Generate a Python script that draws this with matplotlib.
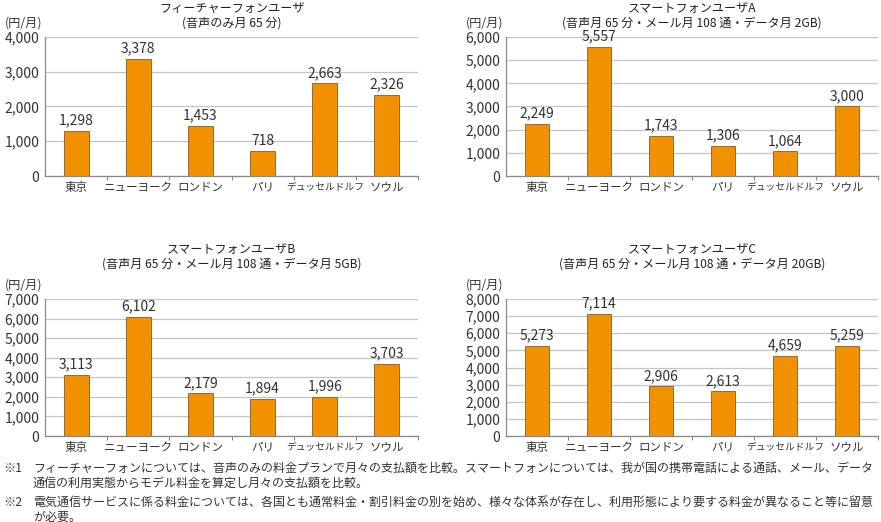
import numpy as np
import matplotlib
matplotlib.use("Agg")
import matplotlib.pyplot as plt

plt.rcParams['font.family'] = ['Noto Sans CJK JP', 'DejaVu Sans']

cities = ["東京", "ニューヨーク", "ロンドン", "パリ", "デュッセルドルフ", "ソウル"]

feature_phone = [1298, 3378, 1453, 718, 2663, 2326]
smart_a = [2249, 5557, 1743, 1306, 1064, 3000]
smart_b = [3113, 6102, 2179, 1894, 1996, 3703]
smart_c = [5273, 7114, 2906, 2613, 4659, 5259]

titles = [
    "フィーチャーフォンユーザ\n(音声のみ月 65 分)",
    "スマートフォンユーザA\n(音声月 65 分・メール月 108 通・データ月 2GB)",
    "スマートフォンユーザB\n(音声月 65 分・メール月 108 通・データ月 5GB)",
    "スマートフォンユーザC\n(音声月 65 分・メール月 108 通・データ月 20GB)",
]
ymax = [4000, 6000, 7000, 8000]
series = [feature_phone, smart_a, smart_b, smart_c]

notes = [
    ("※1", "フィーチャーフォンについては、音声のみの料金プランで月々の支払額を比較。スマートフォンについては、我が国の携帯電話による通話、メール、データ\n通信の利用実態からモデル料金を算定し月々の支払額を比較。"),
    ("※2", "電気通信サービスに係る料金については、各国とも通常料金・割引料金の別を始め、様々な体系が存在し、利用形態により要する料金が異なること等に留意\nが必要。"),
]

W, H = 881, 522
fig = plt.figure(figsize=(W / 100, H / 100), dpi=100)

# axes boxes in pixels: left, top, right, bottom
boxes = [(45, 37, 418, 176), (506, 37, 878, 176),
         (45, 299, 418, 436), (506, 299, 878, 436)]
title_pads = [7.5, 7.5, 23, 23]

orange = "#F29100"
grey_txt = "#333333"

for i, vals in enumerate(series):
    l, t, r, b = boxes[i]
    ax = fig.add_axes([l / W, 1 - b / H, (r - l) / W, (b - t) / H])
    x = np.arange(len(cities))
    ax.bar(x, vals, width=0.4, color=orange, edgecolor="#8a5a20", linewidth=0.6, zorder=3)
    for xi, v in zip(x, vals):
        ax.text(xi, v + ymax[i] * 0.025, f"{v:,}", ha="center", va="bottom",
                fontsize=10, color=grey_txt)
    ax.set_xlim(-0.5, 5.5)
    ax.set_ylim(0, ymax[i])
    ax.set_yticks(np.arange(0, ymax[i] + 1, 1000))
    ax.set_yticklabels([f"{v:,}" for v in range(0, ymax[i] + 1, 1000)],
                       fontsize=10, color=grey_txt)
    ax.tick_params(axis="y", length=0, pad=4)
    ax.yaxis.grid(True, color="#c4c4c4", linewidth=0.9, zorder=0)
    ax.set_axisbelow(True)
    ax.set_xticks(np.arange(0.5, 6, 1))
    ax.set_xticklabels([])
    ax.tick_params(axis="x", length=3, width=0.8, color="#888888", direction="out")
    for xi, name in zip(x, cities):
        fs = 7.0 if len(name) > 6 else 8.3
        ax.annotate(name, xy=(xi, 0), xycoords=("data", "axes fraction"),
                    xytext=(0, -11), textcoords="offset pixels",
                    ha="center", va="center", fontsize=fs, color=grey_txt)
    for s in ["top", "right"]:
        ax.spines[s].set_visible(False)
    for s in ["left", "bottom"]:
        ax.spines[s].set_color("#888888")
        ax.spines[s].set_linewidth(0.9)
    ax.set_title(titles[i], fontsize=8.7, color="#222222", pad=title_pads[i], linespacing=1.15)
    ax.annotate("(円/月)", xy=(0, 1), xycoords="axes fraction",
                xytext=(-21, 14), textcoords="offset pixels",
                ha="center", va="center", fontsize=8.8, color=grey_txt)

ys = [[468, 483], [502, 517]]
for (mark, body), yy in zip(notes, ys):
    fig.text(3 / W, 1 - yy[0] / H, mark, ha="left", va="center", fontsize=8.7, color=grey_txt)
    for line, y in zip(body.split("\n"), yy):
        fig.text(33 / W, 1 - y / H, line, ha="left", va="center", fontsize=8.65, color=grey_txt)

fig.savefig("out.png", dpi=100)
